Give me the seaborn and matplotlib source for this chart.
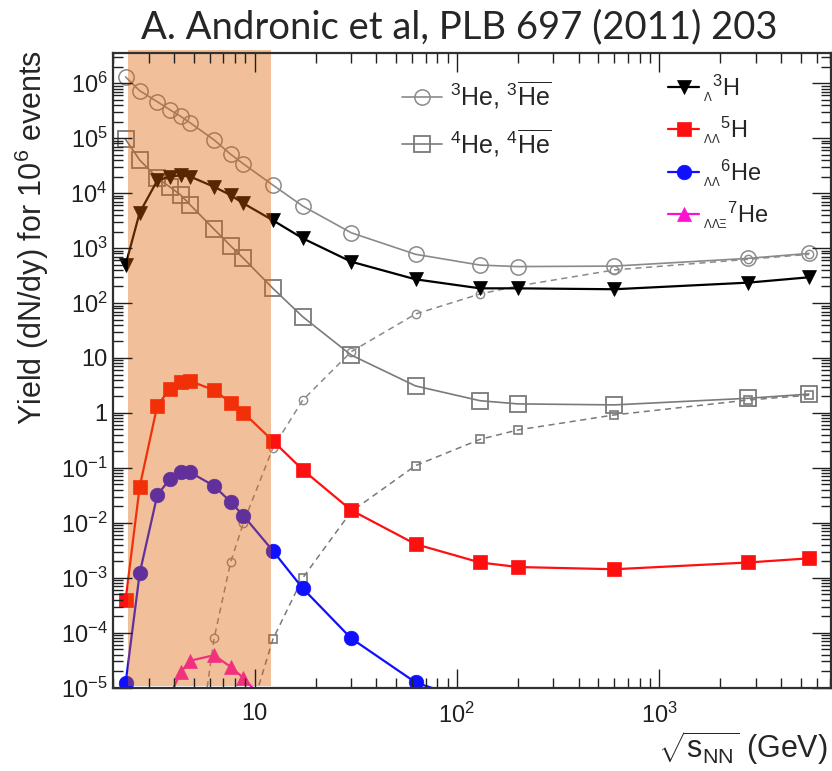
import matplotlib
matplotlib.use('Agg')
import matplotlib.pyplot as plt
import seaborn as sns
from matplotlib.ticker import FixedLocator, FixedFormatter, LogLocator, NullFormatter

# ---------------- data ----------------
energy = [2.3, 2.7, 3.3, 3.8, 4.3, 4.8, 6.3, 7.6, 8.8, 12.3, 17.3, 30, 62.4,
          130, 200, 600, 2760, 5500]
he3 = [1.3e6, 7.3e5, 4.6e5, 3.3e5, 2.5e5, 1.9e5, 9.3e4, 5.1e4, 3.4e4, 1.4e4,
       5.8e3, 1.9e3, 770, 490, 460, 470, 650, 800]
he4 = [9.5e4, 4.0e4, 1.9e4, 1.3e4, 9.3e3, 6.1e3, 2.2e3, 1.1e3, 650, 185,
       56, 11.3, 3.1, 1.67, 1.46, 1.40, 1.85, 2.2]
h3l = [492, 4.4e3, 1.7e4, 2.0e4, 2.1e4, 2.0e4, 1.3e4, 9.2e3, 6.5e3, 3.2e3,
       1.5e3, 565, 270, 185, 185, 178, 235, 294]
h5ll = [3.9e-4, 0.045, 1.36, 2.7, 3.6, 3.8, 2.6, 1.54, 1.01, 0.31,
        0.092, 0.017, 4.1e-3, 1.9e-3, 1.57e-3, 1.43e-3, 1.9e-3, 2.26e-3]

energy_he6 = [2.3, 2.7, 3.3, 3.8, 4.3, 4.8, 6.3, 7.6, 8.8, 12.3, 17.3, 30, 62.4, 130]
he6ll = [1.2e-5, 1.2e-3, 0.032, 0.062, 0.083, 0.083, 0.047, 0.024, 0.0135,
         3.1e-3, 6.4e-4, 7.9e-5, 1.25e-5, 5e-6]

energy_he7 = [3.8, 4.3, 4.8, 6.3, 7.6, 8.8, 12.3]
he7llx = [7e-6, 1.9e-5, 3.1e-5, 3.9e-5, 2.4e-5, 1.5e-5, 4e-6]

energy_anti3 = [4.8, 6.3, 7.6, 8.8, 12.3, 17.3, 30, 62.4, 130, 200, 600, 2760, 5500]
antihe3 = [6.5e-8, 7.9e-5, 1.9e-3, 1.0e-2, 0.23, 1.72, 13, 63, 146, 204, 400, 625, 770]

energy_anti4 = [8.8, 12.3, 17.3, 30, 62.4, 130, 200, 600, 2760, 5500]
antihe4 = [1.3e-6, 7.6e-5, 1.0e-3, 0.016, 0.11, 0.33, 0.49, 0.92, 1.72, 2.1]

shade_range = [2.36, 12.1]

xticks = [10, 100, 1000]
xticklabels = ['10', r'$10^{2}$', r'$10^{3}$']
yticks = [1e-5, 1e-4, 1e-3, 1e-2, 1e-1, 1, 10, 1e2, 1e3, 1e4, 1e5, 1e6]
yticklabels = [r'$10^{-5}$', r'$10^{-4}$', r'$10^{-3}$', r'$10^{-2}$', r'$10^{-1}$',
               '1', '10', r'$10^{2}$', r'$10^{3}$', r'$10^{4}$', r'$10^{5}$', r'$10^{6}$']

# ---------------- style ----------------
sns.set_style('ticks')
plt.rcParams['font.family'] = ['Liberation Sans', 'DejaVu Sans']
plt.rcParams['mathtext.fontset'] = 'custom'
plt.rcParams['mathtext.rm'] = 'Liberation Sans'
plt.rcParams['mathtext.it'] = 'Liberation Sans'
plt.rcParams['mathtext.bf'] = 'Liberation Sans:bold'
plt.rcParams['mathtext.sf'] = 'Liberation Sans'

W, H = 832, 771
fig = plt.figure(figsize=(W / 100, H / 100), dpi=100)
L, R, T, B = 113.3, 830.5, 53.3, 687.7
ax = fig.add_axes([L / W, 1 - B / H, (R - L) / W, (B - T) / H])
ax.set_xscale('log')
ax.set_yscale('log')


def draw(x, y, **kw):
    sns.lineplot(x=x, y=y, ax=ax, sort=False, estimator=None, **kw)
    return ax.lines[-1]


gray = '#8a8a8a'
gray2 = '#7a7a7a'
dash = (0, (4, 3))

l_he3 = draw(energy, he3, color=gray, lw=1.2, marker='o', markersize=11,
             markerfacecolor='none', markeredgecolor=gray, markeredgewidth=1.1, zorder=2.0)
l_he4 = draw(energy, he4, color=gray2, lw=1.2, marker='s', markersize=11,
             markerfacecolor='none', markeredgecolor=gray2, markeredgewidth=1.3, zorder=2.0)
draw(energy_anti3, antihe3, color=gray, lw=1.1, linestyle=dash, marker='o', markersize=6,
     markerfacecolor='none', markeredgecolor=gray, markeredgewidth=1.0, zorder=1.9)
draw(energy_anti4, antihe4, color=gray2, lw=1.1, linestyle=dash, marker='s', markersize=6,
     markerfacecolor='none', markeredgecolor=gray2, markeredgewidth=1.2, zorder=1.9)
l_h3 = draw(energy, h3l, color='black', lw=1.6, marker='v', markersize=10,
            markerfacecolor='black', markeredgecolor='black', markeredgewidth=0.5, zorder=2.2)
l_h5 = draw(energy, h5ll, color='#ff1010', lw=1.6, marker='s', markersize=10,
            markerfacecolor='#ff1010', markeredgecolor='#ff1010', markeredgewidth=0.5, zorder=2.2)
l_he6 = draw(energy_he6, he6ll, color='#1010ff', lw=1.6, marker='o', markersize=10.5,
             markerfacecolor='#1010ff', markeredgecolor='#1010ff', markeredgewidth=0.5, zorder=2.2)
l_he7 = draw(energy_he7, he7llx, color='#ff10d0', lw=1.6, marker='^', markersize=10,
             markerfacecolor='#ff10d0', markeredgecolor='#ff10d0', markeredgewidth=0.5, zorder=2.2)

ax.axvspan(shade_range[0], shade_range[1], ymin=0.003, ymax=1.005, color=(222/255, 98/255, 3/255),
           alpha=0.4, lw=0, zorder=2.4, clip_on=False)

ax.set_xlim(2.0, 7030)
ax.set_ylim(1e-5, 3.5e6)

ax.xaxis.set_major_locator(FixedLocator(xticks))
ax.xaxis.set_major_formatter(FixedFormatter(xticklabels))
ax.xaxis.set_minor_locator(LogLocator(base=10, subs=range(2, 10), numticks=20))
ax.xaxis.set_minor_formatter(NullFormatter())
ax.yaxis.set_major_locator(FixedLocator(yticks))
ax.yaxis.set_major_formatter(FixedFormatter(yticklabels))
ax.yaxis.set_minor_locator(LogLocator(base=10, subs=range(2, 10), numticks=30))
ax.yaxis.set_minor_formatter(NullFormatter())

ax.set_axisbelow(False)
ax.tick_params(which='both', direction='in', top=True, right=True, colors='#202020', width=1.0)
ax.tick_params(which='major', length=14)
ax.tick_params(which='minor', length=7.5)
ax.tick_params(axis='x', which='major', labelsize=17, pad=11)
ax.tick_params(axis='y', which='major', labelsize=17, pad=4)
for s in ax.spines.values():
    s.set_color('#303030')
    s.set_linewidth(1.6)
    s.set_zorder(3)

ax.set_ylabel(r'Yield (dN/dy) for 10$^{6}$ events', fontsize=22)
ax.yaxis.set_label_coords(-0.087, 0.709)
ax.set_xlabel(r'$\sqrt{\mathrm{s}_{\mathrm{NN}}}$ (GeV)', fontsize=22, ha='right', va='top')
ax.xaxis.set_label_coords(0.9965, -0.065)

leg1 = ax.legend([l_he3, l_he4],
                 [r'$^{3}$He, $^{3}\overline{\mathrm{He}}$', r'$^{4}$He, $^{4}\overline{\mathrm{He}}$'],
                 loc='upper left', bbox_to_anchor=(401.7 / W, 1 - 80 / H),
                 bbox_transform=fig.transFigure, frameon=False, fontsize=18,
                 handlelength=1.6, handletextpad=0.35, labelspacing=0.65,
                 borderpad=0, borderaxespad=0)
ax.add_artist(leg1)
ax.legend([l_h3, l_h5, l_he6, l_he7],
          [r'${}_{{}_{\Lambda}}{}^{3}$H', r'${}_{{}_{\Lambda\Lambda}}{}^{5}$H',
           r'${}_{{}_{\Lambda\Lambda}}{}^{6}$He', r'${}_{{}_{\Lambda\Lambda\Xi}}{}^{7}$He'],
          loc='upper left', bbox_to_anchor=(668.3 / W, 1 - 72 / H),
          bbox_transform=fig.transFigure, frameon=False, fontsize=17,
          handlelength=1.3, handletextpad=0.15, labelspacing=0.45,
          borderpad=0, borderaxespad=0)

fig.text(459 / W, 1 - 27 / H, 'A. Andronic et al, PLB 697 (2011) 203',
         family=['Lato', 'DejaVu Sans'], fontsize=27.5, ha='center', va='center')

fig.savefig('out.png', dpi=100)
